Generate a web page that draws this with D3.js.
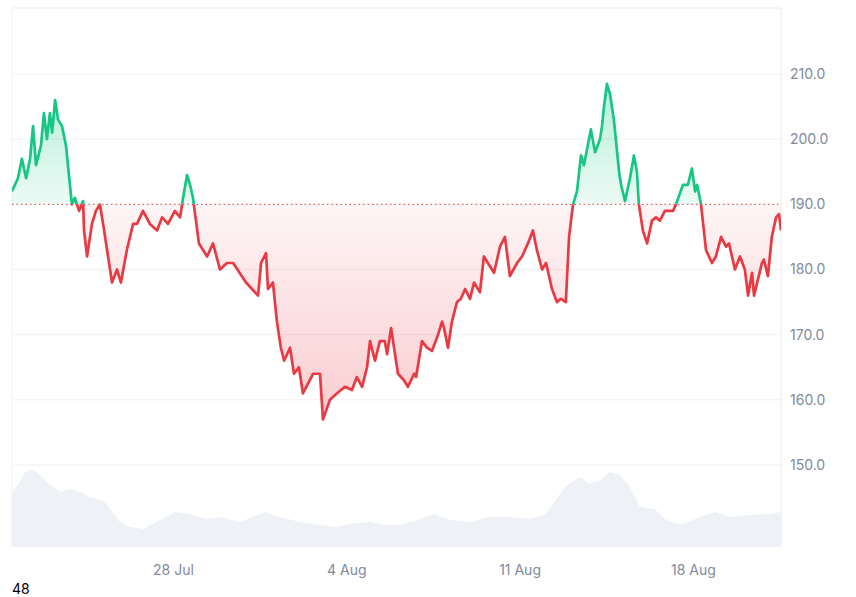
<!DOCTYPE html>
<html><head><meta charset="utf-8">
<script src="https://cdn.jsdelivr.net/npm/d3@7"></script>
<style>body{margin:0;background:#fff}svg{display:block}</style>
</head><body>
<svg id="c" width="856" height="597"></svg>
<script>
// days since 21 Jul 12:00
const days = [0,.24,.40,.57,.73,.85,.97,1.17,1.29,1.41,1.53,1.62,1.74,1.86,2.02,2.18,2.26,2.42,2.54,2.71,2.87,2.91,3.03,3.23,3.39,3.55,3.68,3.84,4.04,4.24,4.40,4.64,4.89,5.05,5.29,5.57,5.86,6.06,6.30,6.58,6.79,6.91,7.07,7.19,7.31,7.55,7.88,8.12,8.40,8.68,8.93,9.45,9.94,10.06,10.26,10.34,10.54,10.70,10.86,10.99,11.23,11.39,11.59,11.75,12.16,12.44,12.56,12.84,13.13,13.45,13.73,13.93,14.14,14.34,14.46,14.66,14.86,15.06,15.15,15.31,15.59,15.83,15.99,16.24,16.32,16.56,16.76,16.96,17.21,17.37,17.45,17.61,17.77,17.97,18.13,18.30,18.50,18.66,18.90,19.06,19.22,19.47,19.71,19.91,20.11,20.40,20.60,20.84,21.04,21.20,21.41,21.57,21.81,22.01,22.17,22.37,22.50,22.66,22.82,22.98,23.10,23.38,23.55,23.75,23.83,23.91,24.03,24.15,24.31,24.52,24.60,24.76,24.96,25.12,25.24,25.32,25.48,25.65,25.85,26.01,26.17,26.37,26.70,26.82,27.10,27.30,27.46,27.59,27.67,27.83,28.03,28.27,28.43,28.64,28.84,28.96,29.20,29.40,29.60,29.73,29.89,29.97,30.29,30.37,30.53,30.69,30.86,30.98,31.06];
const prices = [192,194,197,194,197,202,196,199,204,200,204,201,206,203,202,199,196,190,191,189,190.5,186,182,187,189,190,187,183,178,180,178,183,187,187,189,187,186,188,187,189,188,191,194.5,193,191,184,182,184,180,181,181,178,176,181,182.5,177,178,172,168,166,168,164,165,161,164,164,157,160,161,162,161.5,163.5,162,165,169,166,169,169,167,171,164,163,162,164,163.5,169,168,167.5,170,172,171,168,172,175,175.5,177,175.5,178,176.5,182,181,179.5,183.5,185,179,181,182,184,186,183,180,181,177,175,175.5,175,185,190,192,197.5,196,201.5,198,200,202,205,208.5,207,203,195,193,190.5,194,197.5,195,190,186,184,187.5,188,187.5,189,189,190,193,193,195.5,192,193,190,183,181,182,185,183.5,184,180,182,180,176,179.5,176,181,181.5,179,185,188,188.5,186,184];
const volDays = [0,.32,.53,.85,1.13,1.53,1.94,2.34,2.75,3.15,3.76,4.36,4.76,5.29,5.98,6.58,7.19,7.80,8.40,9.21,10.22,10.82,11.63,12.44,13.05,13.65,14.46,15.06,15.67,16.48,17.08,17.69,18.50,19.30,20.11,20.92,21.53,22.33,22.94,23.34,23.75,24.15,24.56,24.96,25.36,25.97,26.37,26.98,27.79,28.39,29.00,29.81,30.61,31.06];
const volumes = [55,65,75,77,72,62,55,58,55,50,45,25,20,18,27,35,33,28,30,25,35,30,25,22,20,23,25,22,22,28,33,27,25,30,30,28,32,60,70,63,67,75,72,60,40,38,28,22,30,35,30,32,33,35];
const priceTicks = [150,160,170,180,190,200,210];
const dateTicks = ["28 Jul","4 Aug","11 Aug","18 Aug"];
const baseline = 190;

const svg = d3.select("#c");
const t0 = new Date(2024,6,21,12);
const dt = d => new Date(t0.getTime()+d*864e5);
const x = d3.scaleTime().domain([dt(0),dt(31.06)]).range([12,781]);
const y = d3.scaleLinear().domain([150,210]).range([465,74]);
const yv = d3.scaleLinear().domain([0,100]).range([547,447]);
const L=12,R=781,T=8,B=547;

svg.append("g").selectAll("line").data(priceTicks).join("line")
  .attr("x1",L).attr("x2",R).attr("y1",d=>y(d)).attr("y2",d=>y(d))
  .attr("stroke",d=>d===baseline?"none":"#eff1f4");
svg.append("line").attr("x1",L).attr("x2",R).attr("y1",T).attr("y2",T).attr("stroke","#e9ebee");
svg.append("line").attr("x1",L).attr("x2",L).attr("y1",T).attr("y2",B).attr("stroke","#eef0f3");
svg.append("line").attr("x1",R).attr("x2",R).attr("y1",T).attr("y2",B).attr("stroke","#e9ebee");

const vd = volDays.map((d,i)=>[dt(d),volumes[i]]);
svg.append("path").datum(vd).attr("fill","#eef1f5")
  .attr("d",d3.area().x(d=>x(d[0])).y0(yv(0)).y1(d=>yv(d[1])));

const defs = svg.append("defs");
const g1 = defs.append("linearGradient").attr("id","gg").attr("gradientUnits","userSpaceOnUse")
  .attr("x1",0).attr("x2",0).attr("y1",y(209)).attr("y2",y(baseline));
g1.append("stop").attr("offset","0%").attr("stop-color","#16c784").attr("stop-opacity",0.32);
g1.append("stop").attr("offset","100%").attr("stop-color","#16c784").attr("stop-opacity",0.08);
const g2 = defs.append("linearGradient").attr("id","rg").attr("gradientUnits","userSpaceOnUse")
  .attr("x1",0).attr("x2",0).attr("y1",y(baseline)).attr("y2",y(156));
g2.append("stop").attr("offset","0%").attr("stop-color","#ea3943").attr("stop-opacity",0.05);
g2.append("stop").attr("offset","100%").attr("stop-color","#ea3943").attr("stop-opacity",0.26);
defs.append("clipPath").attr("id","up").append("rect").attr("x",L).attr("y",0).attr("width",R-L).attr("height",y(baseline));
defs.append("clipPath").attr("id","dn").append("rect").attr("x",L).attr("y",y(baseline)).attr("width",R-L).attr("height",600);

const pd = days.map((d,i)=>[dt(d),prices[i]]);
const area = d3.area().x(d=>x(d[0])).y0(y(baseline)).y1(d=>y(d[1]));
const line = d3.line().x(d=>x(d[0])).y(d=>y(d[1]));
svg.append("path").datum(pd).attr("clip-path","url(#up)").attr("fill","url(#gg)").attr("d",area);
svg.append("path").datum(pd).attr("clip-path","url(#dn)").attr("fill","url(#rg)").attr("d",area);

svg.append("line").attr("x1",L).attr("x2",R).attr("y1",y(baseline)).attr("y2",y(baseline))
  .attr("stroke","#ea3943").attr("stroke-width",1).attr("stroke-dasharray","1.5,3");

svg.append("path").datum(pd).attr("clip-path","url(#up)").attr("fill","none").attr("stroke","#16c784").attr("stroke-width",2.7).attr("stroke-linejoin","round").attr("d",line);
svg.append("path").datum(pd).attr("clip-path","url(#dn)").attr("fill","none").attr("stroke","#ea3943").attr("stroke-width",2.7).attr("stroke-linejoin","round").attr("d",line);

const ya = d3.axisRight(y).tickValues(priceTicks).tickFormat(d3.format(".1f")).tickSize(0).tickPadding(9);
svg.append("g").attr("transform",`translate(${R},0)`).call(ya)
  .call(g=>g.select(".domain").remove())
  .selectAll("text").attr("font-family","Inter, 'Noto Sans', sans-serif").attr("font-size",14).attr("fill","#808a9d");
const tickDates = [dt(6.5),dt(13.5),dt(20.5),dt(27.5)];
const xa = d3.axisBottom(x).tickValues(tickDates).tickFormat((d,i)=>dateTicks[i]).tickSize(0).tickPadding(18);
svg.append("g").attr("transform",`translate(0,${B})`).call(xa)
  .call(g=>g.select(".domain").remove())
  .selectAll("text").attr("font-family","Inter, 'Noto Sans', sans-serif").attr("font-size",14).attr("fill","#808a9d");

svg.append("text").attr("x",12).attr("y",594).attr("font-family","Inter, 'Noto Sans', sans-serif").attr("font-size",14).attr("fill","#000").text("48");
</script>
</body></html>
